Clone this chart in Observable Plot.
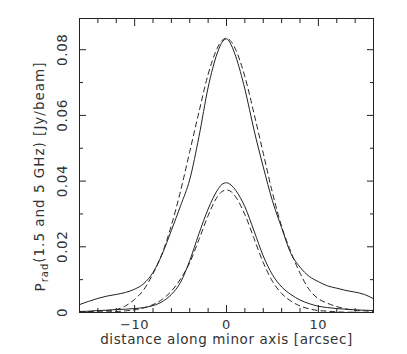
<!DOCTYPE html>
<html><head><meta charset="utf-8">
<script src="https://cdn.jsdelivr.net/npm/d3@7"></script>
<script src="https://cdn.jsdelivr.net/npm/@observablehq/plot@0.6"></script>
<style>body{margin:0;background:#fff}</style>
</head><body><div id="chart"></div>
<script>
const xs = [-16,-15,-14,-13,-12,-11,-10,-9,-8,-7,-6,-5,-4,-3,-2,-1,-0.5,0,0.5,1,2,3,4,5,6,7,8,9,10,11,12,13,14,15,16];
const outerSolid = [0.0024,0.0034,0.0043,0.0050,0.0055,0.0061,0.0071,0.0088,0.0122,0.0178,0.0250,0.0325,0.0405,0.0535,0.0685,0.0790,0.0822,0.0833,0.0815,0.0780,0.0680,0.0555,0.0443,0.0340,0.0258,0.0180,0.0138,0.0110,0.0094,0.0081,0.0074,0.0067,0.0062,0.0055,0.0042];
const outerDashed = [0.0002,0.0003,0.0004,0.0006,0.0009,0.0020,0.0040,0.0070,0.0118,0.0180,0.0265,0.0370,0.0490,0.0610,0.0725,0.0805,0.0828,0.0835,0.0825,0.0800,0.0718,0.0605,0.0485,0.0365,0.0262,0.0185,0.0120,0.0070,0.0042,0.0028,0.0018,0.0011,0.0007,0.0005,0.0003];
const innerSolid = [0.0003,0.0004,0.0006,0.0007,0.0009,0.0010,0.0012,0.0015,0.0021,0.0033,0.0055,0.0092,0.0158,0.0240,0.0315,0.0372,0.0390,0.0395,0.0388,0.0372,0.0322,0.0248,0.0172,0.0115,0.0078,0.0055,0.0038,0.0027,0.0019,0.0015,0.0012,0.0010,0.0008,0.0007,0.0006];
const innerDashed = [0.0000,0.0001,0.0001,0.0002,0.0003,0.0005,0.0008,0.0014,0.0024,0.0040,0.0065,0.0102,0.0152,0.0222,0.0295,0.0352,0.0368,0.0373,0.0368,0.0352,0.0298,0.0225,0.0152,0.0095,0.0058,0.0035,0.0020,0.0011,0.0006,0.0004,0.0002,0.0001,0.0001,0.0000,0.0000];

const xMajor = [-10, 0, 10];
const xMinor = [-14, -12, -8, -6, -4, -2, 2, 4, 6, 8, 12, 14];
const yMajor = [0, 0.02, 0.04, 0.06, 0.08];
const yMinor = [0.01, 0.03, 0.05, 0.07];
const xLabel = "distance along minor axis [arcsec]";
const yLabelMain = "P";
const yLabelSub = "rad";
const yLabelRest = "(1.5 and 5 GHz) [Jy/beam]";

const toRows = (ys) => xs.map((x, i) => ({x, y: ys[i]}));
const fmtX = d => d < 0 ? "\u2212" + (-d) : String(d);
const fmtY = d => d === 0 ? "0" : d.toFixed(2);
const ink = "#222";
const txt = "#333";

const tickAxes = (anchor, ticks, size) => {
  const isX = anchor === "top" || anchor === "bottom";
  return (isX ? Plot.axisX : Plot.axisY)(ticks, {anchor, tickSize: -size, fill: "none", stroke: ink, label: null});
};

const chart = Plot.plot({
  width: 407, height: 354,
  marginLeft: 79, marginRight: 34, marginTop: 18, marginBottom: 42,
  style: {fontFamily: "'DejaVu Sans', sans-serif", fontSize: "13px", color: txt, background: "#fff"},
  x: {domain: [-16, 16]},
  y: {domain: [0, 0.0895]},
  marks: [
    Plot.frame({stroke: ink}),
    tickAxes("bottom", xMajor, 7), tickAxes("bottom", xMinor, 4),
    tickAxes("top", xMajor, 7), tickAxes("top", xMinor, 4),
    tickAxes("left", yMajor, 7), tickAxes("left", yMinor, 4),
    tickAxes("right", yMajor, 7), tickAxes("right", yMinor, 4),
    Plot.line(toRows(outerSolid), {x: "x", y: "y", stroke: ink, strokeWidth: 1, curve: "monotone-x"}),
    Plot.line(toRows(outerDashed), {x: "x", y: "y", stroke: ink, strokeWidth: 1, strokeDasharray: "5,4", curve: "monotone-x"}),
    Plot.line(toRows(innerSolid), {x: "x", y: "y", stroke: ink, strokeWidth: 1, curve: "monotone-x"}),
    Plot.line(toRows(innerDashed), {x: "x", y: "y", stroke: ink, strokeWidth: 1, strokeDasharray: "5,4", curve: "monotone-x"}),
    Plot.text(xMajor, {x: d => d, frameAnchor: "bottom", lineAnchor: "middle", dy: 12, text: fmtX, fill: txt, fontSize: 13}),
    Plot.text(yMajor, {y: d => d, frameAnchor: "left", dx: -17, rotate: -90, textAnchor: "middle", text: fmtY, fill: txt, fontSize: 13.5}),
    Plot.text([xLabel], {frameAnchor: "bottom", lineAnchor: "middle", dy: 27.5, text: d => d, fill: txt, fontSize: 13.5}),
    Plot.text([yLabelMain + yLabelSub + yLabelRest], {frameAnchor: "left", dx: -39, dy: 11, rotate: -90, textAnchor: "middle", text: d => d, fill: txt, fontSize: 13.5})
  ]
});
document.getElementById("chart").appendChild(chart);

// widen the label text a little, like the reference's stroke font
d3.select(chart).selectAll("text").style("letter-spacing", "0.6px");

// turn the y-axis title into P with a "rad" subscript
d3.select(chart).selectAll("text")
  .filter(function() { return this.textContent === yLabelMain + yLabelSub + yLabelRest; })
  .style("letter-spacing", "1px")
  .each(function() {
    const t = d3.select(this);
    t.text(null);
    t.append("tspan").text(yLabelMain);
    t.append("tspan").attr("dy", "0.35em").attr("font-size", "10px").text(yLabelSub);
    t.append("tspan").attr("dy", "-0.35em").text(yLabelRest);
  });
</script>
</body></html>
